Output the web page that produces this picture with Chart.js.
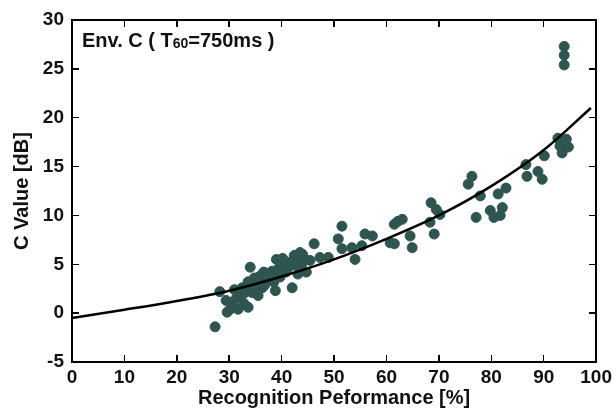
<!DOCTYPE html>
<html><head><meta charset="utf-8">
<script src="https://cdn.jsdelivr.net/npm/chart.js@4.4.0/dist/chart.umd.min.js"></script>
<style>
html,body{margin:0;padding:0;background:#fff;}
#wrap{position:relative;width:616px;height:410px;}
#c{position:absolute;left:0;top:0;}
.frm{position:absolute;border:2px solid #000;box-sizing:border-box;pointer-events:none;}
.tk{position:absolute;background:#000;pointer-events:none;}
</style>
</head><body><div id="wrap"><canvas id="c" width="616" height="410"></canvas></div>
<script>
const xTicks = [0,10,20,30,40,50,60,70,80,90,100];
const yTicks = [-5,0,5,10,15,20,25,30];
const perfX = [27.3,28.2,29.4,29.6,30.2,30.5,31.3,31.7,32.0,32.8,33.6,33.0,33.6,34.0,34.4,35.1,35.5,35.9,36.3,36.6,37.0,37.8,38.2,38.8,39.0,39.3,39.7,40.5,40.8,41.6,42.0,42.4,42.7,43.1,43.5,44.3,44.7,45.4,46.2,47.3,48.9,50.8,51.5,51.5,53.4,54.0,55.3,55.9,57.3,60.7,61.5,61.5,62.2,63.0,64.5,64.9,68.3,68.5,69.1,69.5,70.2,75.6,76.3,77.1,77.9,79.8,80.5,81.3,81.7,82.1,82.8,86.6,86.8,88.9,89.7,90.1,92.7,93.1,93.5,93.9,93.9,93.9,94.3,94.7,
  31.0,32.5,34.8,36.0,37.5,38.5,40.0,41.0,43.8,34.2,36.8,39.5,41.2,42.8,44.0,33.2,35.0,37.2,40.2];
const cValue = [-1.4,2.2,1.3,0.1,0.4,1.1,1.5,0.4,1.8,1.0,0.6,2.1,3.2,4.7,2.1,2.8,1.8,3.8,2.6,4.2,3.3,3.5,4.3,2.3,5.5,4.5,3.7,4.9,4.2,5.2,2.6,5.9,4.9,4.0,6.2,5.5,4.2,5.4,7.1,5.7,5.7,7.6,8.9,6.6,6.7,5.5,6.9,8.1,7.9,7.2,7.1,9.1,9.4,9.6,7.9,6.7,9.3,11.3,8.1,10.6,10.1,13.2,14.0,9.8,12.0,10.5,9.8,12.2,10.0,10.8,12.8,15.2,14.0,14.5,13.7,16.1,17.9,17.1,16.4,27.3,26.4,25.4,17.8,17.0,
  2.4,2.6,3.6,3.1,4.0,3.2,4.4,5.0,5.0,2.9,2.9,4.0,4.6,5.4,6.0,2.6,3.4,3.9,5.6];
const fitX = [0,10,20,30,40,50,60,70,80,90,99];
const fitY = [-0.5,0.35,1.25,2.3,3.75,5.5,7.6,10.0,13.0,16.7,21.0];

const FONT = "'Liberation Sans', Arial, sans-serif";

const labelPlugin = {
  id: 'envLabel',
  afterDraw(chart) {
    const ctx = chart.ctx;
    const a = chart.chartArea;
    ctx.save();
    ctx.fillStyle = '#111';
    ctx.textBaseline = 'alphabetic';
    ctx.textAlign = 'left';
    let tx = a.left + 10, ty = a.top + 27;
    ctx.font = 'bold 20px ' + FONT;
    const p1 = 'Env. C ( T';
    ctx.fillText(p1, tx, ty); tx += ctx.measureText(p1).width;
    ctx.font = 'bold 14px ' + FONT;
    ctx.fillText('60', tx, ty + 1); tx += ctx.measureText('60').width;
    ctx.font = 'bold 20px ' + FONT;
    ctx.fillText('=750ms )', tx, ty);
    ctx.restore();
  }
};

const tickFont = {family: FONT, size: 19, weight: 'bold'};

const chart = new Chart(document.getElementById('c'), {
  type: 'scatter',
  data: {
    datasets: [
      {
        type: 'line',
        data: fitX.map((v, i) => ({x: v, y: fitY[i]})),
        borderColor: '#000', borderWidth: 2.5, pointRadius: 0, tension: 0.4,
        cubicInterpolationMode: 'monotone', order: 0
      },
      {
        data: perfX.map((v, i) => ({x: v, y: cValue[i]})),
        backgroundColor: '#2f5550', borderColor: '#2f5550', pointRadius: 5, order: 1
      }
    ]
  },
  options: {
    responsive: false, animation: false,
    layout: {padding: {top: 20, right: 18, left: 0, bottom: 0}},
    plugins: {legend: {display: false}, tooltip: {enabled: false}},
    scales: {
      x: {
        type: 'linear', min: 0, max: 100,
        afterBuildTicks(s) { s.ticks = xTicks.map(v => ({value: v})); },
        afterFit(s) { s.height = 48; },
        grid: {display: false, drawTicks: false},
        border: {display: true, color: '#000', width: 2},
        ticks: {color: '#111', font: tickFont, padding: 4, maxRotation: 0, autoSkip: false},
        title: {display: true, text: 'Recognition Peformance [%]', color: '#111', font: {family: FONT, size: 20, weight: 'bold'}, padding: {top: -5, bottom: 0}}
      },
      y: {
        type: 'linear', min: -5, max: 30,
        afterBuildTicks(s) { s.ticks = yTicks.map(v => ({value: v})); },
        afterFit(s) { s.width = 72; },
        grid: {display: false, drawTicks: false},
        border: {display: true, color: '#000', width: 2},
        ticks: {color: '#111', font: tickFont, padding: 8, autoSkip: false},
        title: {display: true, text: 'C Value [dB]', color: '#111', font: {family: FONT, size: 20, weight: 'bold'}, padding: {top: 10, bottom: 0}}
      }
    }
  },
  plugins: [labelPlugin]
});

// Frame and inward tick marks as an overlay, placed from the chart's own scales.
(function () {
  const wrap = document.getElementById('wrap');
  const a = chart.chartArea, xs = chart.scales.x, ys = chart.scales.y;
  const f = document.createElement('div');
  f.className = 'frm';
  f.style.left = (a.left - 1) + 'px';
  f.style.top = (a.top - 1) + 'px';
  f.style.width = (a.right - a.left + 2) + 'px';
  f.style.height = (a.bottom - a.top + 2) + 'px';
  wrap.appendChild(f);
  const L = 7, W = 1.5;
  function tick(l, t, w, h) {
    const d = document.createElement('div');
    d.className = 'tk';
    d.style.left = l + 'px'; d.style.top = t + 'px';
    d.style.width = w + 'px'; d.style.height = h + 'px';
    wrap.appendChild(d);
  }
  xTicks.forEach(v => {
    const px = xs.getPixelForValue(v);
    tick(px - W / 2, a.bottom - L, W, L);
    tick(px - W / 2, a.top, W, L);
  });
  yTicks.forEach(v => {
    const py = ys.getPixelForValue(v);
    tick(a.left, py - W / 2, L, W);
    tick(a.right - L, py - W / 2, L, W);
  });
})();
</script></body></html>
